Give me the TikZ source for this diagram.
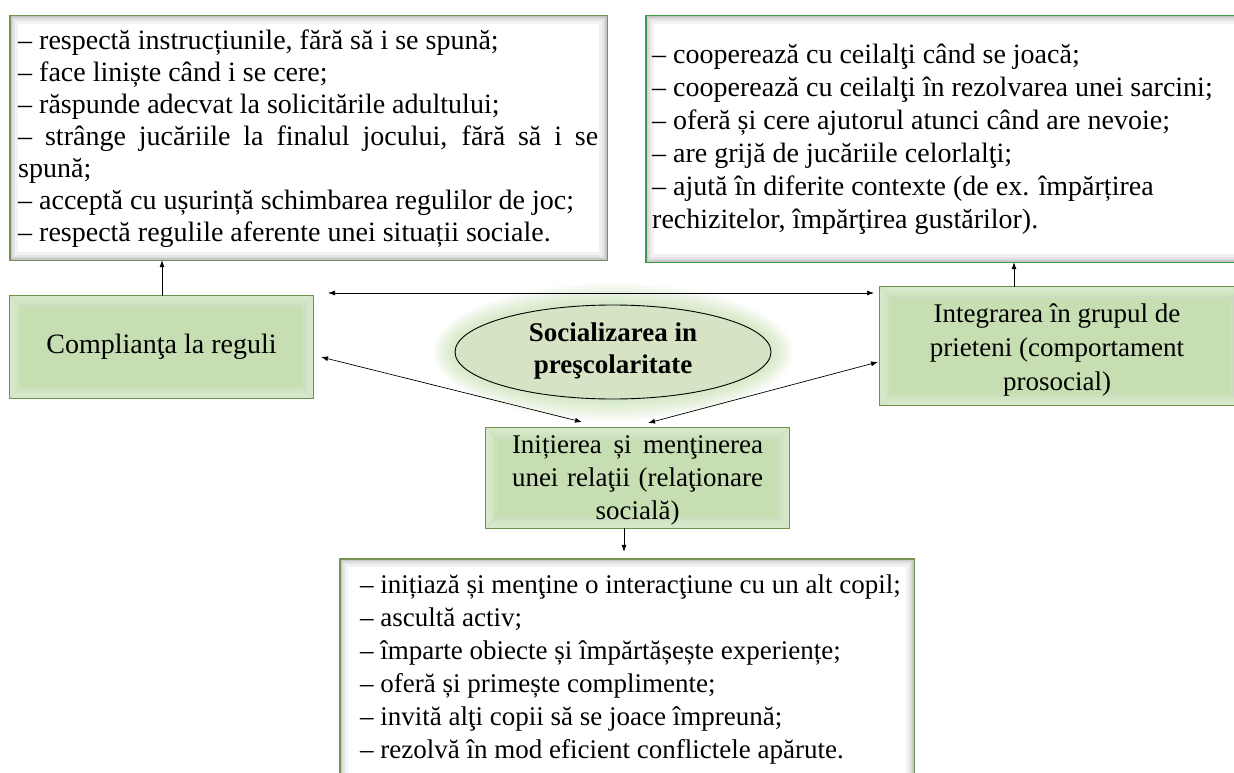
\documentclass[tikz,border=0pt]{standalone}
\usepackage{fontspec}
\setmainfont{Liberation Serif}
\usetikzlibrary{arrows.meta,shapes.geometric}
\definecolor{gfill}{RGB}{198,222,178}
\definecolor{gborder}{RGB}{112,146,80}
\definecolor{tlborder}{RGB}{118,146,84}
\definecolor{trborder}{RGB}{58,158,72}
\definecolor{efill}{RGB}{214,228,197}
\definecolor{glowc}{RGB}{165,210,130}
\newcommand{\innershade}[1]{%
  \begin{scope}
    \clip (#1.north west) rectangle (#1.south east);
    \foreach \w in {16,11,7,4,2}{\draw[black,opacity=0.05,line width=\w pt] (#1.north west) rectangle (#1.south east);}
  \end{scope}}
\newcommand{\bevel}[1]{%
  \begin{scope}
    \clip (#1.north west) rectangle (#1.south east);
    \foreach \w in {22,16,10}{\draw[white,opacity=0.12,line width=\w pt] (#1.north west) rectangle (#1.south east);}
    \draw[gborder!35,line width=0.4pt] ([shift={(9,9)}]#1.north west) rectangle ([shift={(-9,-9)}]#1.south east);
    \draw[gborder!35,line width=0.4pt] (#1.north west) -- ([shift={(9,9)}]#1.north west);
    \draw[gborder!35,line width=0.4pt] (#1.north east) -- ([shift={(-9,9)}]#1.north east);
    \draw[gborder!35,line width=0.4pt] (#1.south west) -- ([shift={(9,-9)}]#1.south west);
    \draw[gborder!35,line width=0.4pt] (#1.south east) -- ([shift={(-9,-9)}]#1.south east);
  \end{scope}}
\begin{document}
\begin{tikzpicture}[x=1pt,y=-1pt,
  greenbox/.style={rectangle, fill=gfill, inner sep=0pt},
  whitebox/.style={rectangle, fill=white, inner sep=0pt},
  arr/.style={-{Latex[length=7pt,width=5pt]}, line width=0.7pt},
  darr/.style={{Latex[length=7pt,width=5pt]}-{Latex[length=7pt,width=5pt]}, line width=0.7pt},
  body/.style={inner sep=0pt, anchor=base west},
  gtext/.style={align=center, inner sep=0pt},
]
\useasboundingbox (0,0) rectangle (1234,773);
\fill[white] (0,0) rectangle (1234,773);

% glow around central ellipse
\foreach \r in {1,...,9}{
  \fill[glowc,opacity=0.055] (613,352) ellipse [x radius={158+2.4*\r}, y radius={47+2.4*\r}];
}

% boxes
\node[whitebox, minimum width=597pt, minimum height=244pt] (tl) at (308.5,138) {};
\innershade{tl}
\draw[tlborder,line width=1.4pt] (tl.north west) rectangle (tl.south east);

\node[whitebox, minimum width=600pt, minimum height=246pt] (tr) at (946,139) {};
\innershade{tr}
\draw[trborder,line width=1.4pt] (tr.north west) rectangle (tr.south east);

\node[whitebox, minimum width=574pt, minimum height=230pt] (bt) at (627,674) {};
\innershade{bt}
\draw[tlborder,line width=1.4pt] (bt.north west) rectangle (bt.south east);

\node[greenbox, minimum width=303pt, minimum height=102pt] (cr) at (161.5,347) {};
\bevel{cr}
\draw[gborder,line width=1.2pt] (cr.north west) rectangle (cr.south east);

\node[greenbox, minimum width=362pt, minimum height=118pt] (ig) at (1061,346) {};
\bevel{ig}
\draw[gborder,line width=1.2pt] (ig.north west) rectangle (ig.south east);

\node[greenbox, minimum width=303pt, minimum height=100pt] (mid) at (637.5,478) {};
\bevel{mid}
\draw[gborder,line width=1.2pt] (mid.north west) rectangle (mid.south east);

\node[ellipse, fill=efill, draw=black, line width=0.9pt, minimum width=316pt, minimum height=94pt, inner sep=0pt] (el) at (613,352) {};

% texts
\node[body, font=\fontsize{28}{32}\selectfont] (tlt) at (18,50) {\vtop{%
\hbox{– respectă instrucțiunile, fără să i se spună;}
\hbox{– face liniște când i se cere;}
\hbox{– răspunde adecvat la solicitările adultului;}
\hbox{\makebox[580pt][s]{– strânge jucăriile la finalul jocului, fără să i se}}
\hbox{spună;}
\hbox{– acceptă cu ușurință schimbarea regulilor de joc;}
\hbox{– respectă regulile aferente unei situații sociale.}}};

\node[body, font=\fontsize{28}{33}\selectfont] (trt) at (652,64) {\vtop{%
\hbox{– cooperează cu ceilalţi când se joacă;}
\hbox{– cooperează cu ceilalţi în rezolvarea unei sarcini;}
\hbox{– oferă și cere ajutorul atunci când are nevoie;}
\hbox{– are grijă de jucăriile celorlalţi;}
\hbox{– ajută în diferite contexte (de ex. împărțirea}
\hbox{rechizitelor, împărţirea gustărilor).}}};

\node[body, font=\fontsize{27}{33}\selectfont] (btt) at (360,593) {\vtop{%
\hbox{– inițiază și menţine o interacţiune cu un alt copil;}
\hbox{– ascultă activ;}
\hbox{– împarte obiecte și împărtășește experiențe;}
\hbox{– oferă și primește complimente;}
\hbox{– invită alţi copii să se joace împreună;}
\hbox{– rezolvă în mod eficient conflictele apărute.}}};

\node[gtext, font=\fontsize{28}{32}\selectfont] (crt) at (cr.center) {Complianţa la reguli};
\node[gtext, font=\fontsize{27}{34}\selectfont] (igt) at (1057,350) {Integrarea în grupul de\\prieteni (comportament\\prosocial)};
\node[gtext, font=\fontsize{27}{33}\selectfont] (midt) at (637.5,480) {%
\makebox[251pt][s]{Inițierea și menţinerea}\\
\makebox[251pt][s]{unei relaţii (relaţionare}\\
socială)};
\node[gtext, font=\bfseries\fontsize{27}{32}\selectfont] (elt) at ([yshift=1pt]el.center) {Socializarea in\\preşcolaritate};

% connectors
\coordinate (hl) at (328,293);
\coordinate (hr) at (874,293);
\coordinate (a1) at (321,357);
\coordinate (a2) at (582,422);
\coordinate (b1) at (878,362);
\coordinate (b2) at (648,423);
\draw[arr] ([xshift=0.5pt]cr.north) -- ([xshift=0.5pt]cr.north |- tl.south);
\draw[arr] ([xshift=-47pt]ig.north) -- ([xshift=-47pt]ig.north |- tr.south);
\draw[darr] (hl) -- (hr);
\draw[darr] (a1) -- (a2);
\draw[darr] (b1) -- (b2);
\draw[arr, shorten >=7pt] ([xshift=-13.5pt]mid.south) -- ([xshift=-13.5pt]mid.south |- bt.north);
\end{tikzpicture}
\end{document}
